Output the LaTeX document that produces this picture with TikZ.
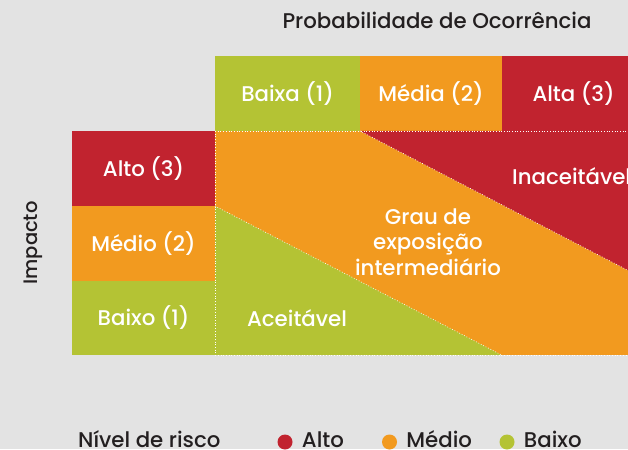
\documentclass[tikz,border=0pt]{standalone}
\usepackage{fontspec}
\setmainfont{Poppins Medium}
\definecolor{rojo}{HTML}{C1232F}
\definecolor{naranja}{HTML}{F29A1F}
\definecolor{verde}{HTML}{B4C334}
\definecolor{fondo}{HTML}{E3E3E3}
\definecolor{texto}{HTML}{231F20}
\begin{document}
\begin{tikzpicture}[x=1pt,y=-1pt,
  celda/.style={minimum height=75pt,inner sep=0pt,text=white,font=\fontsize{21.3}{24}\selectfont},
  zona/.style={text=white,font=\fontsize{21.3}{25.5}\selectfont,align=center,inner sep=0pt},
  leyenda/.style={text=texto,font=\fontsize{21.3}{24}\selectfont,inner sep=0pt},
  borde/.style={white,line width=0.7pt,dotted},
  punto/.style={circle,inner sep=0pt,minimum size=15pt}]
\def\xb{215};%inicio matriz
\def\yb{131};%inicio filas
\def\yc{355};%fin matriz
\def\pend{0.52};%inclinacion de las diagonales

%Fondo
\useasboundingbox (0,0) rectangle (628,449);
\clip (0,0) rectangle (628,449);
\fill[fondo] (0,0) rectangle (628,449);

%Titulos
\node[leyenda,anchor=base] (prob) at (437,29) {Probabilidade de Ocorrência};
\node[leyenda,font=\fontsize{19.5}{20}\selectfont,rotate=90] (imp) at (33,243) {Impacto};

%Columnas de probabilidade
\node[celda,fill=verde,minimum width=145pt] (baixa) at (287.5,93.5) {Baixa (1)};
\node[celda,fill=naranja,minimum width=142pt] (media) at (431,93.5) {Média (2)};
\node[celda,fill=rojo,minimum width=143pt] (alta) at (573.5,93.5) {Alta (3)};

%Filas de impacto
\node[celda,fill=rojo,minimum width=143pt] (alto) at (143.5,168.5) {Alto (3)};
\node[celda,fill=naranja,minimum width=143pt] (medio) at (143.5,243.5) {Médio (2)};
\node[celda,fill=verde,minimum width=143pt,minimum height=74pt] (baixo) at (143.5,318) {Baixo (1)};

%Zonas de risco
\fill[naranja] (\xb,\yb) rectangle (645,\yc);
\fill[rojo] (360,\yb) -- (645,\yb) -- (645,{\yb+\pend*285}) -- cycle;
\fill[verde] (\xb,206) -- ({\xb+(\yc-206)/\pend},\yc) -- (\xb,\yc) -- cycle;
\draw[borde] (\xb,\yb) -- (645,\yb) (\xb,\yb) -- (\xb,\yc) -- (645,\yc);
\draw[borde] (360,\yb) -- (645,{\yb+\pend*285});
\draw[borde] (\xb,206) -- ({\xb+(\yc-206)/\pend},\yc);

\node[zona,anchor=west] (inac) at (512,176) {Inaceitável};
\node[zona] (grau) at (428,242) {Grau de\\exposição\\intermediário};
\node[zona] (acei) at (297,318) {Aceitável};

%Leyenda
\node[leyenda,anchor=base west] (nivel) at (78,447.5) {Nível de risco};
\foreach \c/\n/\x/\t in {rojo/alto/285/Alto,naranja/medio/389.5/Médio,verde/baixo/507/Baixo}{
    \node[punto,fill=\c] (p\n) at (\x,442) {};
    \node[leyenda,anchor=base west] (l\n) at ([xshift=9pt]p\n.east |- nivel.base) {\t};
}
\end{tikzpicture}
\end{document}
